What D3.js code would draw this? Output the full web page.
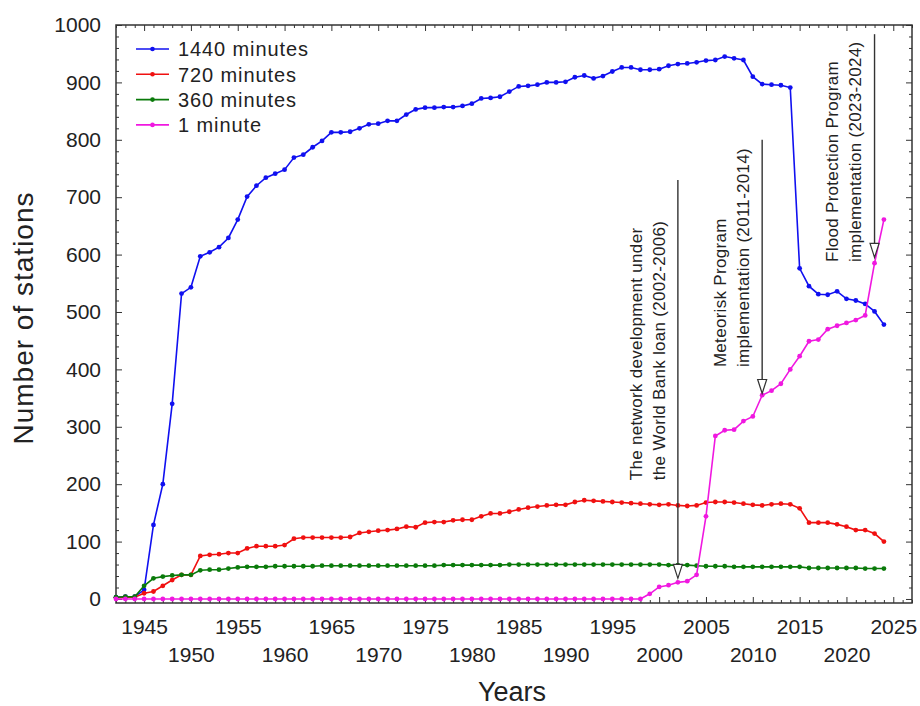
<!DOCTYPE html>
<html>
<head>
<meta charset="utf-8">
<script src="https://cdn.jsdelivr.net/npm/d3@7"></script>
<style>
  html, body { margin: 0; padding: 0; background: #ffffff; }
  svg { display: block; }
  text { font-family: "Liberation Sans", Arial, Helvetica, sans-serif; fill: #222; }
</style>
</head>
<body>
<svg id="chart" width="920" height="706"></svg>
<script>
// ---------------- DATA ----------------
const years = [1942,1943,1944,1945,1946,1947,1948,1949,1950,1951,1952,1953,1954,1955,1956,1957,1958,1959,1960,
  1961,1962,1963,1964,1965,1966,1967,1968,1969,1970,1971,1972,1973,1974,1975,1976,1977,1978,1979,1980,
  1981,1982,1983,1984,1985,1986,1987,1988,1989,1990,1991,1992,1993,1994,1995,1996,1997,1998,1999,2000,
  2001,2002,2003,2004,2005,2006,2007,2008,2009,2010,2011,2012,2013,2014,2015,2016,2017,2018,2019,2020,
  2021,2022,2023,2024];

const min1440 = [3,4,4,16,129,200,340,532,543,597,604,613,629,661,701,720,734,741,748,
  769,774,787,798,813,813,814,820,827,828,833,833,844,853,856,856,857,857,859,863,
  872,873,875,884,893,894,896,900,900,901,909,912,907,911,919,926,926,922,922,923,
  929,932,933,935,938,939,945,942,939,910,897,896,895,891,576,545,531,530,536,523,
  520,514,501,478];

const min720 = [2,3,3,10,13,23,33,42,42,75,77,78,80,80,88,92,92,92,94,
  105,107,107,107,107,107,108,115,117,119,120,122,126,125,133,134,134,137,138,138,
  144,149,149,152,156,159,161,163,164,164,169,172,171,170,169,168,167,166,165,164,
  165,163,162,163,168,169,169,168,166,164,163,165,166,165,158,133,133,133,130,126,
  120,120,114,100];

const min360 = [3,4,4,23,36,39,41,42,42,50,51,51,53,55,56,56,56,57,57,
  57,57,57,58,58,58,58,58,58,58,58,58,58,58,58,58,59,59,59,59,
  59,59,59,60,60,60,60,60,60,60,60,60,60,60,60,60,60,60,60,60,
  59,59,59,58,57,57,57,56,56,56,56,56,56,56,56,54,54,54,54,54,
  54,53,53,53];

const min1 = [0,0,0,0,0,0,0,0,0,0,0,0,0,0,0,0,0,0,0,
  0,0,0,0,0,0,0,0,0,0,0,0,0,0,0,0,0,0,0,0,
  0,0,0,0,0,0,0,0,0,0,0,0,0,0,0,0,0,0,9,21,
  24,29,31,42,144,284,294,295,310,318,355,363,375,400,423,449,452,470,476,481,
  486,494,585,661];

const seriesNames = ["1440 minutes", "720 minutes", "360 minutes", "1 minute"];
const seriesColors = ["#1010f0", "#f01010", "#0a7a0a", "#f018e0"];

const yTicks = [0,100,200,300,400,500,600,700,800,900,1000];
const xTicks = [1945,1950,1955,1960,1965,1970,1975,1980,1985,1990,1995,2000,2005,2010,2015,2020,2025];

// annotations: arrow year, arrow top value, arrow tip value, label start value, text lines
const annYears  = [2002, 2011, 2023];
const annTop    = [730, 800, 984];
const annTip    = [36, 358, 595];
const annBase   = [207, 404, 587];
const annLines  = [
  ["The network development under", "the World Bank loan (2002-2006)"],
  ["Meteorisk Program", "implementation (2011-2014)"],
  ["Flood Protection Program", "implementation (2023-2024)"]
];

// ---------------- CHART ----------------
const svg = d3.select("#chart");
svg.append("rect").attr("width", 920).attr("height", 706).attr("fill", "#fff");

const L = 116, R = 912, T = 25, B = 603;
const x = d3.scaleLinear().domain([1942, 2027]).range([L, R]);
const y = d3.scaleLinear().domain([-7, 1000]).range([B, T]);

const axisColor = "#333";

// minor ticks
const minorX = d3.range(1942, 2028).filter(v => v % 5 !== 0);
const minorY = d3.range(0, 1001, 20).filter(v => v % 100 !== 0);

function styleAxis(g) {
  g.select(".domain").remove();
  g.selectAll("line").attr("stroke", axisColor).attr("stroke-width", 1);
}

// left
svg.append("g").attr("transform", `translate(${L},0)`)
  .call(d3.axisLeft(y).tickValues(yTicks).tickSize(-6).tickPadding(15).tickFormat(d3.format("d")))
  .call(styleAxis)
  .call(g => g.selectAll("text").attr("font-size", 21).attr("fill", "#222")
      .style("font-family", '"Liberation Sans", Arial, sans-serif'));
svg.append("g").attr("transform", `translate(${L},0)`)
  .call(d3.axisLeft(y).tickValues(minorY).tickSize(-3).tickFormat(""))
  .call(styleAxis);
// right
svg.append("g").attr("transform", `translate(${R},0)`)
  .call(d3.axisRight(y).tickValues(yTicks).tickSize(-6).tickFormat(""))
  .call(styleAxis);
svg.append("g").attr("transform", `translate(${R},0)`)
  .call(d3.axisRight(y).tickValues(minorY).tickSize(-3).tickFormat(""))
  .call(styleAxis);
// bottom
svg.append("g").attr("transform", `translate(0,${B})`)
  .call(d3.axisBottom(x).tickValues(xTicks).tickSize(-6).tickFormat(d3.format("d")))
  .call(styleAxis)
  .call(g => g.selectAll("text")
      .attr("font-size", 21).attr("fill", "#222")
      .style("font-family", '"Liberation Sans", Arial, sans-serif')
      .attr("dy", null)
      .attr("y", d => ((d - 1945) % 10 === 0) ? 31 : 59));
svg.append("g").attr("transform", `translate(0,${B})`)
  .call(d3.axisBottom(x).tickValues(minorX).tickSize(-3).tickFormat(""))
  .call(styleAxis);
// top
svg.append("g").attr("transform", `translate(0,${T})`)
  .call(d3.axisTop(x).tickValues(xTicks).tickSize(-6).tickFormat(""))
  .call(styleAxis);
svg.append("g").attr("transform", `translate(0,${T})`)
  .call(d3.axisTop(x).tickValues(minorX).tickSize(-3).tickFormat(""))
  .call(styleAxis);

// frame
svg.append("rect").attr("x", L).attr("y", T).attr("width", R - L).attr("height", B - T)
  .attr("fill", "none").attr("stroke", axisColor).attr("stroke-width", 1.5);

// series
const allSeries = [min1440, min720, min360, min1];
const line = d3.line().x((d, i) => x(years[i])).y(d => y(d));
allSeries.forEach((vals, si) => {
  const g = svg.append("g");
  g.append("path").datum(vals).attr("d", line)
    .attr("fill", "none").attr("stroke", seriesColors[si]).attr("stroke-width", 1.6);
  g.selectAll("circle").data(vals).join("circle")
    .attr("cx", (d, i) => x(years[i])).attr("cy", d => y(d)).attr("r", 2.4)
    .attr("fill", seriesColors[si]);
});

// annotations
annYears.forEach((yr, i) => {
  const ax = x(yr);
  const yTop = y(annTop[i]), yTip = y(annTip[i]);
  const g = svg.append("g");
  g.append("line").attr("x1", ax).attr("x2", ax).attr("y1", yTop).attr("y2", yTip - 13)
    .attr("stroke", "#333").attr("stroke-width", 1.4);
  g.append("path")
    .attr("d", `M${ax},${yTip} L${ax - 4.5},${yTip - 14} L${ax + 4.5},${yTip - 14} Z`)
    .attr("fill", "#fff").attr("stroke", "#333").attr("stroke-width", 1.2);
  const offs = [-42, -19];
  annLines[i].forEach((t, k) => {
    g.append("text")
      .attr("transform", `translate(${ax + offs[k]},${y(annBase[i])}) rotate(-90)`)
      .attr("dy", "0.35em").attr("text-anchor", "start")
      .attr("font-size", 17).attr("letter-spacing", "0.3px").attr("fill", "#222")
      .text(t);
  });
});

// legend
const lg = svg.append("g");
seriesNames.forEach((name, i) => {
  const cy = 49 + i * 25.3;
  lg.append("line").attr("x1", 136).attr("x2", 169).attr("y1", cy).attr("y2", cy)
    .attr("stroke", seriesColors[i]).attr("stroke-width", 1.6);
  lg.append("circle").attr("cx", 152.5).attr("cy", cy).attr("r", 2.3).attr("fill", seriesColors[i]);
  lg.append("text").attr("x", 178).attr("y", cy).attr("dy", "0.36em")
    .attr("font-size", 20).attr("letter-spacing", "0.9px").attr("fill", "#222").text(name);
});

// axis titles
svg.append("text").attr("x", 512).attr("y", 701).attr("text-anchor", "middle")
  .attr("font-size", 27).attr("fill", "#222").text("Years");
svg.append("text").attr("transform", "translate(23,318) rotate(-90)")
  .attr("text-anchor", "middle").attr("dy", "0.35em")
  .attr("font-size", 28).attr("letter-spacing", "1px").attr("fill", "#222").text("Number of stations");
</script>
</body>
</html>
